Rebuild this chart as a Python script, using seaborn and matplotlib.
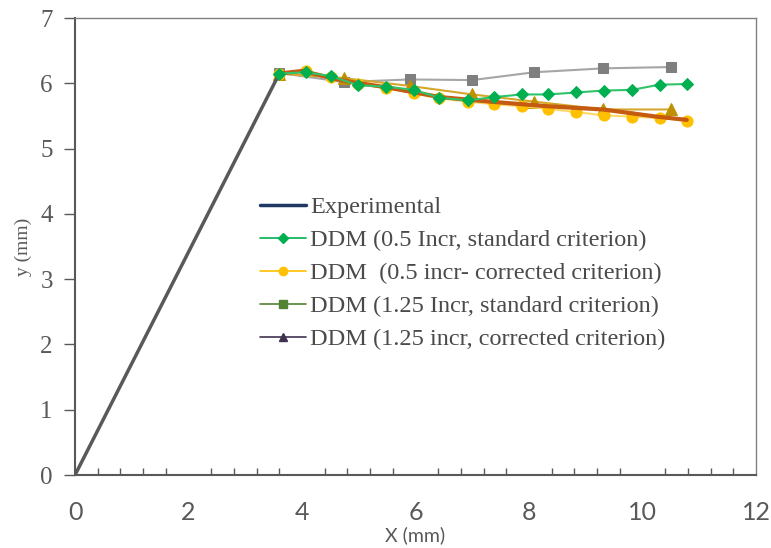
import numpy as np
import pandas as pd
import seaborn as sns
import matplotlib.pyplot as plt
from matplotlib.lines import Line2D
from matplotlib.ticker import MultipleLocator

# Experimental curve (loading line + post-peak)
exp_x = [0.0, 3.6, 4.0, 4.67, 5.55, 6.43, 7.31, 8.31, 9.3, 10.25, 10.78]
exp_y = [0.0, 6.15, 6.19, 6.05, 5.93, 5.79, 5.72, 5.65, 5.6, 5.49, 5.44]

# DDM 0.5 increments
inc05_x = [3.6, 4.07, 4.51, 4.99, 5.48, 5.97, 6.42, 6.92, 7.38, 7.87,
           8.34, 8.83, 9.32, 9.81, 10.30, 10.78]
std05_y = [6.15, 6.17, 6.11, 5.97, 5.95, 5.90, 5.78, 5.74, 5.79, 5.83,
           5.83, 5.86, 5.89, 5.90, 5.98, 5.99]
cor05_y = [6.15, 6.19, 6.10, 5.99, 5.93, 5.85, 5.77, 5.72, 5.68, 5.65,
           5.61, 5.56, 5.51, 5.49, 5.47, 5.43]

# DDM 1.25 increments
inc125_x = [3.6, 4.74, 5.9, 7.0, 8.09, 9.31, 10.5]
std125_y = [6.16, 6.02, 6.06, 6.05, 6.17, 6.23, 6.25]
cor125_y = [6.15, 6.08, 5.96, 5.83, 5.72, 5.60, 5.60]

labels = ['Experimental',
          'DDM (0.5 Incr, standard criterion)',
          'DDM  (0.5 incr- corrected criterion)',
          'DDM (1.25 Incr, standard criterion)',
          'DDM (1.25 incr, corrected criterion)']

sns.set_style("white")
plt.rcParams['font.family'] = ['Liberation Serif', 'DejaVu Serif']

fig = plt.figure(figsize=(7.71, 5.48), dpi=100)
ax = fig.add_axes([0.0973, 0.1332, 0.8833, 0.8338])

sns.lineplot(x=inc125_x, y=std125_y, sort=False, color='#a6a6a6', lw=1.5,
             marker='s', markersize=7, markerfacecolor='#7f7f7f',
             markeredgecolor='#7f7f7f', ax=ax, zorder=2)
sns.lineplot(x=inc125_x, y=cor125_y, sort=False, color='#d4a72c', lw=1.5,
             marker='^', markersize=8, markerfacecolor='#bf9000',
             markeredgecolor='#bf9000', ax=ax, zorder=3)
sns.lineplot(x=inc05_x, y=cor05_y, sort=False, color='#ffd966', lw=1.5,
             marker='o', markersize=8, markerfacecolor='#ffc000',
             markeredgecolor='#ffc000', ax=ax, zorder=4)
sns.lineplot(x=exp_x[1:], y=exp_y[1:], sort=False, color='#c55a11', lw=3,
             ax=ax, zorder=5)
sns.lineplot(x=exp_x[:2], y=exp_y[:2], sort=False, color='#595959', lw=2.5,
             ax=ax, zorder=5)
sns.lineplot(x=inc05_x, y=std05_y, sort=False, color='#2fc46a', lw=1.5,
             marker='D', markersize=6.5, markerfacecolor='#00b050',
             markeredgecolor='#00b050', ax=ax, zorder=6)

ax.set_xlim(0, 12)
ax.set_ylim(0, 7)
ax.xaxis.set_major_locator(MultipleLocator(2))
ax.xaxis.set_minor_locator(MultipleLocator(0.4))
ax.yaxis.set_major_locator(MultipleLocator(1))
ax.tick_params(axis='x', which='major', direction='inout', length=10,
               width=1, color='#595959', labelsize=18, labelcolor='#595959',
               pad=14)
ax.tick_params(axis='x', which='minor', direction='in', length=5,
               width=1, color='#595959', bottom=True)
ax.tick_params(axis='y', which='major', direction='out', length=8,
               width=1, color='#595959', labelsize=18, labelcolor='#595959',
               left=True, pad=8)
for lab in ax.get_xticklabels():
    lab.set_family(['Lato', 'DejaVu Sans'])
for side in ['left', 'bottom']:
    ax.spines[side].set_color('#595959')
    ax.spines[side].set_linewidth(1.5)
for side in ['top', 'right']:
    ax.spines[side].set_color('#808080')
    ax.spines[side].set_linewidth(1)

ax.set_xlabel('X (mm)', fontsize=14, color='#595959',
              family=['Lato', 'DejaVu Sans'], labelpad=1)
ax.set_ylabel('y (mm)', fontsize=14, color='#595959', labelpad=6)

handles = [Line2D([], [], color='#1f3864', lw=2.5),
           Line2D([], [], color='#00b050', lw=1.2, marker='D', markersize=5),
           Line2D([], [], color='#ffc000', lw=1.2, marker='o', markersize=6),
           Line2D([], [], color='#548235', lw=1.2, marker='s', markersize=6),
           Line2D([], [], color='#403151', lw=1.2, marker='^', markersize=6)]
ax.legend(handles, labels, loc='upper left', bbox_to_anchor=(0.257, 0.631),
          frameon=False, fontsize=17.5, labelcolor='#4a4a4a',
          handlelength=1.9, handletextpad=0.16, labelspacing=0.45,
          borderaxespad=0)

fig.savefig('out.png', dpi=100)
